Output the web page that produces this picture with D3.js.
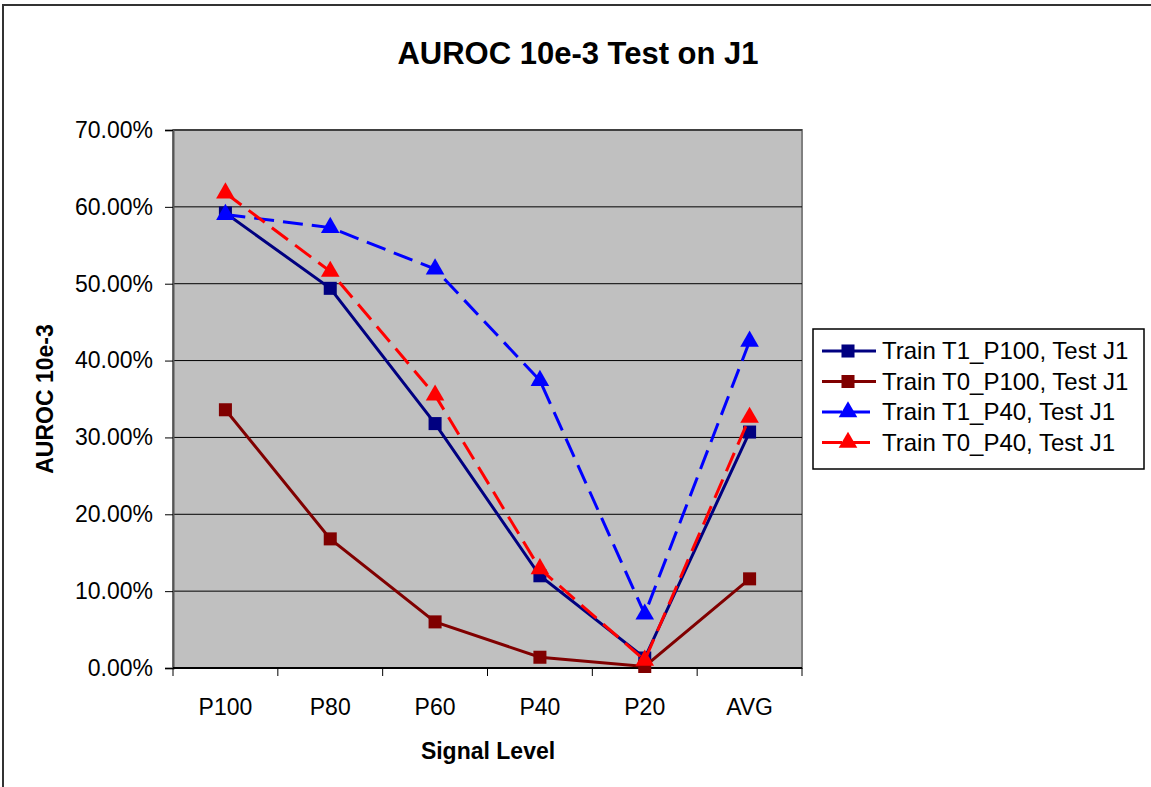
<!DOCTYPE html>
<html>
<head>
<meta charset="utf-8">
<script src="https://cdn.jsdelivr.net/npm/d3@7"></script>
<style>
  body { margin: 0; background: #fff; }
  text { font-family: "Liberation Sans", Arial, sans-serif; fill: #000; }
</style>
</head>
<body>
<div id="chart"></div>
<script>
const categories = ["P100", "P80", "P60", "P40", "P20", "AVG"];
const yTicks = [0, 10, 20, 30, 40, 50, 60, 70];

const t1P100 = [59.2, 49.4, 31.8, 12.0, 1.3, 30.7];
const t0P100 = [33.6, 16.8, 6.0, 1.4, 0.2, 11.6];
const t1P40 = [59.0, 57.3, 51.9, 37.4, 7.0, 42.5];
const t0P40 = [61.8, 51.6, 35.5, 12.9, 1.0, 32.6];

const seriesNames = [
  "Train T1_P100, Test J1",
  "Train T0_P100, Test J1",
  "Train T1_P40, Test J1",
  "Train T0_P40, Test J1",
];

const series = [
  { name: seriesNames[0], values: t1P100, color: "#000080", dash: null, shape: "square" },
  { name: seriesNames[1], values: t0P100, color: "#800000", dash: null, shape: "square" },
  { name: seriesNames[2], values: t1P40, color: "#0000ff", dash: "20,9", shape: "triangle" },
  { name: seriesNames[3], values: t0P40, color: "#ff0000", dash: "20,9", shape: "triangle" },
];

const W = 1151, H = 787;
const plot = { left: 173, right: 802, top: 130, bottom: 668 };

const svg = d3.select("#chart").append("svg")
  .attr("width", W).attr("height", H);

// outer frame
svg.append("rect")
  .attr("x", 3).attr("y", 5)
  .attr("width", W + 20).attr("height", H + 20)
  .attr("fill", "#fff").attr("stroke", "#333").attr("stroke-width", 2);

const x = d3.scalePoint().domain(categories).range([plot.left, plot.right]).padding(0.5);
const y = d3.scaleLinear().domain([0, 70]).range([plot.bottom, plot.top]);

// plot background
svg.append("rect")
  .attr("x", plot.left).attr("y", plot.top)
  .attr("width", plot.right - plot.left).attr("height", plot.bottom - plot.top)
  .attr("fill", "#c0c0c0").attr("stroke", "#808080").attr("stroke-width", 2);

// gridlines
svg.append("g").selectAll("line")
  .data(yTicks.filter(d => d > 0))
  .enter().append("line")
  .attr("x1", plot.left).attr("x2", plot.right)
  .attr("y1", d => y(d)).attr("y2", d => y(d))
  .attr("stroke", "#000").attr("stroke-width", 1);

// y axis
const yAxis = svg.append("g")
  .attr("transform", `translate(${plot.left},0)`)
  .call(d3.axisLeft(y).tickValues(yTicks).tickSize(8).tickPadding(12)
    .tickFormat(d => d.toFixed(2) + "%"));
yAxis.select(".domain").attr("stroke", "#555").attr("stroke-width", 2);
yAxis.selectAll(".tick line").attr("stroke", "#000");
yAxis.selectAll(".tick text").style("font-size", "23px").attr("fill", "#000");

// x axis (ticks on band boundaries)
const step = x.step();
const boundaries = d3.range(categories.length + 1).map(i => plot.left + i * step);
const xAxis = svg.append("g");
xAxis.append("line")
  .attr("x1", plot.left).attr("x2", plot.right)
  .attr("y1", plot.bottom).attr("y2", plot.bottom)
  .attr("stroke", "#000").attr("stroke-width", 2);
xAxis.selectAll(".xt").data(boundaries).enter().append("line")
  .attr("x1", d => d).attr("x2", d => d)
  .attr("y1", plot.bottom).attr("y2", plot.bottom + 8)
  .attr("stroke", "#000");
xAxis.selectAll(".xl").data(categories).enter().append("text")
  .attr("x", d => x(d)).attr("y", 715)
  .attr("text-anchor", "middle")
  .style("font-size", "23px")
  .text(d => d);

// titles
svg.append("text")
  .attr("x", 578).attr("y", 64)
  .attr("text-anchor", "middle")
  .style("font-size", "31px").style("font-weight", "bold")
  .text("AUROC 10e-3 Test on J1");

svg.append("text")
  .attr("x", 488).attr("y", 759)
  .attr("text-anchor", "middle")
  .style("font-size", "23px").style("font-weight", "bold")
  .text("Signal Level");

svg.append("text")
  .attr("transform", `translate(53,${(plot.top + plot.bottom) / 2}) rotate(-90)`)
  .attr("text-anchor", "middle")
  .style("font-size", "23px").style("font-weight", "bold")
  .text("AUROC 10e-3");

// series
const line = d3.line()
  .x((d, i) => x(categories[i]))
  .y(d => y(d));

const symbolFor = shape => d3.symbol()
  .type(shape === "square" ? d3.symbolSquare : d3.symbolTriangle)
  .size(shape === "square" ? 170 : 150);

series.forEach(s => {
  const g = svg.append("g");
  g.append("path")
    .attr("d", line(s.values))
    .attr("fill", "none")
    .attr("stroke", s.color)
    .attr("stroke-width", 3)
    .attr("stroke-dasharray", s.dash);
  g.selectAll("path.mk").data(s.values).enter().append("path")
    .attr("class", "mk")
    .attr("transform", (d, i) => `translate(${x(categories[i])},${y(d)})`)
    .attr("d", symbolFor(s.shape)())
    .attr("fill", s.color);
});

// legend
const legend = svg.append("g").attr("transform", "translate(813,329)");
legend.append("rect")
  .attr("width", 331).attr("height", 140)
  .attr("fill", "#fff").attr("stroke", "#000").attr("stroke-width", 1.5);

const items = legend.selectAll(".li").data(series).enter().append("g")
  .attr("transform", (d, i) => `translate(0,${22 + i * 30.5})`);
items.append("line")
  .attr("x1", 9).attr("x2", 63)
  .attr("stroke", d => d.color).attr("stroke-width", 3)
  .attr("stroke-dasharray", d => d.dash ? "20,8" : null);
items.append("path")
  .attr("transform", "translate(35,0)")
  .attr("d", d => symbolFor(d.shape)())
  .attr("fill", d => d.color);
items.append("text")
  .attr("x", 69).attr("y", 0).attr("dy", "0.35em")
  .style("font-size", "24px")
  .text(d => d.name);
</script>
</body>
</html>
